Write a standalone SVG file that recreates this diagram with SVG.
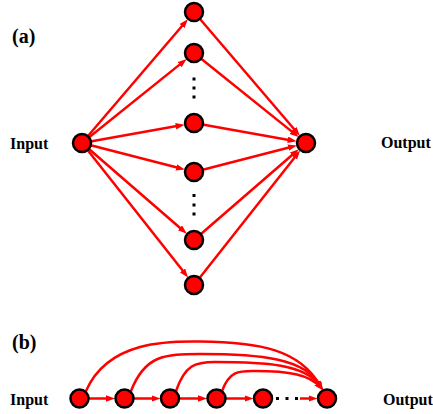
<svg xmlns="http://www.w3.org/2000/svg" width="433" height="414" viewBox="0 0 433 414">
<style>
.lbl{font-family:"Liberation Serif","Times New Roman",serif;font-weight:bold;fill:#000}
.tag{font-size:20px}
.io{font-size:16px}
.node{fill:#ff0000;stroke:#000;stroke-width:2.5}
.edge{fill:none;stroke:#ff0000;stroke-width:2.5}
.dot{fill:#000}
</style>
<defs>
<marker id="ah" markerUnits="userSpaceOnUse" markerWidth="10" markerHeight="8" refX="4" refY="3.25" orient="auto">
<path d="M0,0 L9,3.25 L0,6.5 z" fill="#ff0000"/>
</marker>
</defs>
<rect width="433" height="414" fill="#fff"/>
<text class="lbl tag" x="12" y="43">(a)</text>
<text class="lbl io" x="10" y="149">Input</text>
<text class="lbl io" x="381" y="148">Output</text>
<text class="lbl tag" x="12" y="349">(b)</text>
<text class="lbl io" x="10" y="405">Input</text>
<text class="lbl io" x="383" y="405">Output</text>
<g id="connectors">
<line class="edge" marker-end="url(#ah)" x1="82" y1="143" x2="184.6" y2="23.0"/>
<line class="edge" marker-end="url(#ah)" x1="82" y1="143" x2="182.7" y2="62.1"/>
<line class="edge" marker-end="url(#ah)" x1="82" y1="143" x2="179.7" y2="125.6"/>
<line class="edge" marker-end="url(#ah)" x1="82" y1="143" x2="180.0" y2="168.3"/>
<line class="edge" marker-end="url(#ah)" x1="82" y1="143" x2="183.0" y2="230.5"/>
<line class="edge" marker-end="url(#ah)" x1="82" y1="143" x2="185.0" y2="273.6"/>
<line class="edge" marker-end="url(#ah)" x1="194" y1="12" x2="296.6" y2="132.0"/>
<line class="edge" marker-end="url(#ah)" x1="194" y1="53" x2="294.7" y2="133.9"/>
<line class="edge" marker-end="url(#ah)" x1="194" y1="123" x2="291.7" y2="140.4"/>
<line class="edge" marker-end="url(#ah)" x1="194" y1="172" x2="292.0" y2="146.7"/>
<line class="edge" marker-end="url(#ah)" x1="194" y1="240" x2="295.0" y2="152.5"/>
<line class="edge" marker-end="url(#ah)" x1="194" y1="285" x2="297.0" y2="154.4"/>
<line class="edge" marker-end="url(#ah)" x1="79.5" y1="398.5" x2="110" y2="398.5"/>
<line class="edge" marker-end="url(#ah)" x1="124.5" y1="398.5" x2="155.5" y2="398.5"/>
<line class="edge" marker-end="url(#ah)" x1="170" y1="398.5" x2="202" y2="398.5"/>
<line class="edge" marker-end="url(#ah)" x1="216.5" y1="398.5" x2="248.5" y2="398.5"/>
<line class="edge" marker-end="url(#ah)" x1="300" y1="398.5" x2="312.5" y2="398.5"/>
<path class="edge" marker-end="url(#ah)" d="M86,391 C108,340 170,341 200,341.5 C260,342 300,350 320,385.5"/>
<path class="edge" marker-end="url(#ah)" d="M131,391 C145,355 165,354 200,354 C260,354 305,358 320,385.5"/>
<path class="edge" marker-end="url(#ah)" d="M176,391 C185,365 195,362 215,362 C265,362 305,364 320.5,386"/>
<path class="edge" marker-end="url(#ah)" d="M222,391 C230,370 240,371 255,371 C290,371 310,375 319.5,386.5"/>
</g>
<g id="dots">
<rect class="dot" x="192.5" y="77.5" width="3" height="3"/>
<rect class="dot" x="192.5" y="86.5" width="3" height="3"/>
<rect class="dot" x="192.5" y="95.5" width="3" height="3"/>
<rect class="dot" x="192.5" y="194" width="3" height="3"/>
<rect class="dot" x="192.5" y="203.5" width="3" height="3"/>
<rect class="dot" x="192.5" y="212.5" width="3" height="3"/>
<rect class="dot" x="276" y="397" width="3" height="3"/>
<rect class="dot" x="285.5" y="397" width="3" height="3"/>
<rect class="dot" x="295" y="397" width="3" height="3"/>
</g>
<g id="a-input"><circle class="node" cx="82" cy="143" r="9"/></g>
<g id="a-h1"><circle class="node" cx="194" cy="12" r="9"/></g>
<g id="a-h2"><circle class="node" cx="194" cy="53" r="9"/></g>
<g id="a-h3"><circle class="node" cx="194" cy="123" r="9"/></g>
<g id="a-h4"><circle class="node" cx="194" cy="172" r="9"/></g>
<g id="a-h5"><circle class="node" cx="194" cy="240" r="9"/></g>
<g id="a-h6"><circle class="node" cx="194" cy="285" r="9"/></g>
<g id="a-output"><circle class="node" cx="306" cy="143" r="9"/></g>
<g id="b-n1"><circle class="node" cx="79.5" cy="398.5" r="9"/></g>
<g id="b-n2"><circle class="node" cx="124.5" cy="398.5" r="9"/></g>
<g id="b-n3"><circle class="node" cx="170" cy="398.5" r="9"/></g>
<g id="b-n4"><circle class="node" cx="216.5" cy="398.5" r="9"/></g>
<g id="b-n5"><circle class="node" cx="263" cy="398.5" r="9"/></g>
<g id="b-output"><circle class="node" cx="327" cy="398.5" r="9"/></g>
</svg>
